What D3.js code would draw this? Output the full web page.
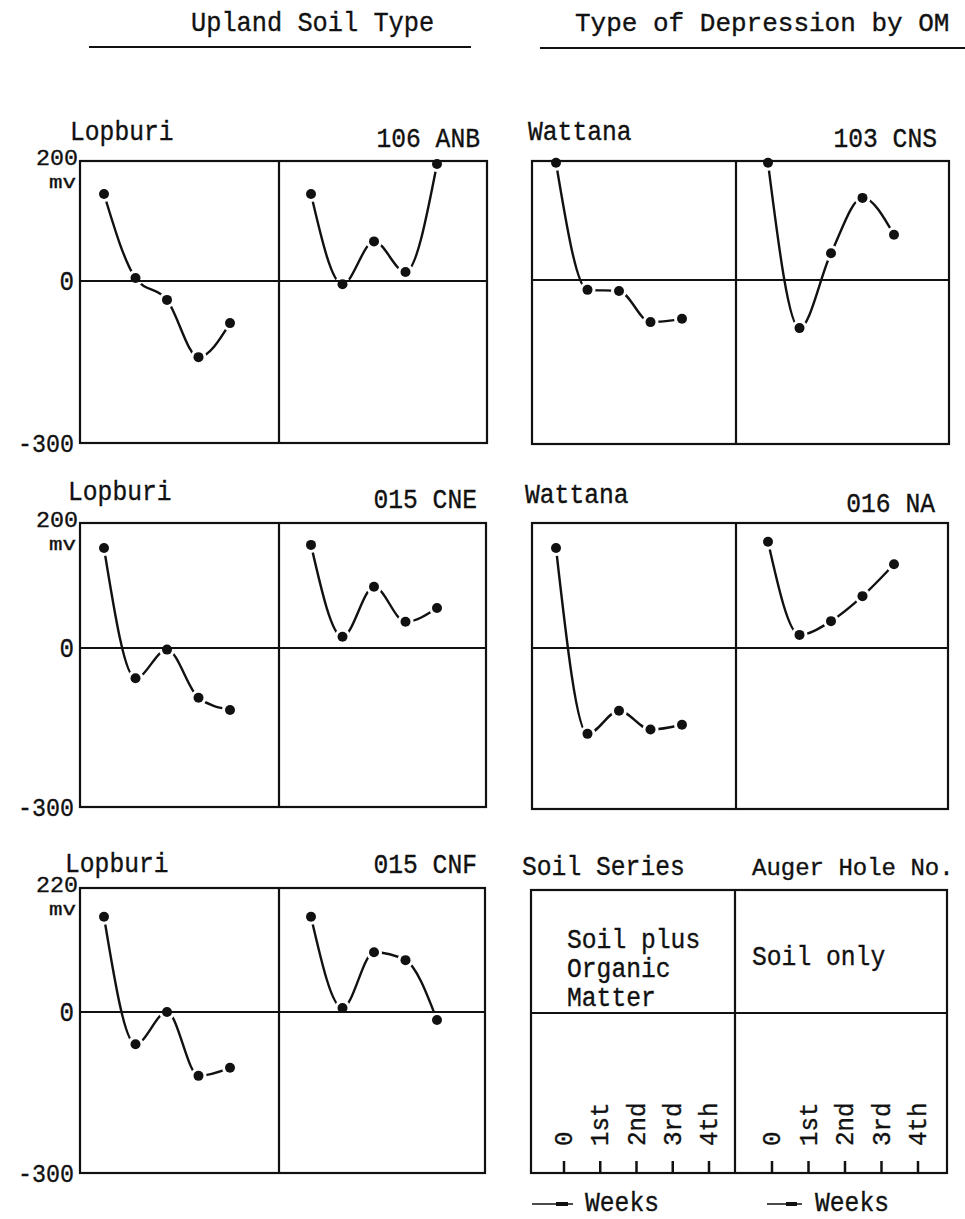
<!DOCTYPE html>
<html>
<head>
<meta charset="utf-8">
<script src="https://cdn.jsdelivr.net/npm/d3@7/dist/d3.min.js"></script>
<style>
  html, body { margin: 0; padding: 0; background: #fff; }
  svg { display: block; }
  text { font-family: "Liberation Mono", "DejaVu Sans Mono", monospace; fill: #111; stroke: #111; stroke-width: 0.35; }
</style>
</head>
<body>
<svg id="chart" width="965" height="1219"></svg>
<script>
// ---------------- DATA ----------------
const weeks = [0, 1, 2, 3, 4];
const weekLabels = ["0", "1st", "2nd", "3rd", "4th"];
const yTicksStd = [200, 0, -300];
const yTicksRow3 = [220, 0, -300];
const yUnit = "mv";

// Eh values (mv): soil plus organic matter (left half) / soil only (right half)
const lopburi106ANB_OM   = [145, 5, -35, -141, -78];
const lopburi106ANB_Soil = [145, -6, 66, 15, 195];
const wattana103CNS_OM   = [197, -18, -20, -77, -71];
const wattana103CNS_Soil = [197, -88, 45, 138, 76];
const lopburi015CNE_OM   = [160, -57, -3, -94, -117];
const lopburi015CNE_Soil = [165, 18, 98, 42, 64];
const wattana016NA_OM    = [160, -160, -117, -152, -143];
const wattana016NA_Soil  = [170, 21, 43, 83, 134];
const lopburi015CNF_OM   = [169, -60, 0, -119, -104];
const lopburi015CNF_Soil = [169, 7, 106, 92, -15];

const headerLeft = "Upland Soil Type";
const headerRight = "Type of Depression by OM";
const keySeries = "Soil Series";
const keyAuger = "Auger Hole No.";
const keyOM = ["Soil plus", "Organic", "Matter"];
const keySoil = "Soil only";
const keyWeeks = "Weeks";

// ---------------- LAYOUT ----------------
const svg = d3.select("#chart");
const FS = 27, CW = 14.8;

function txt(s, x, y, anchor, fs, cw, parent) {
  fs = fs || FS; cw = cw || CW;
  const w = s.length * cw;
  const sx = anchor === "end" ? x - w : x;
  return (parent || svg).append("text")
    .attr("x", sx).attr("y", y)
    .attr("font-size", fs)
    .attr("textLength", w)
    .attr("lengthAdjust", "spacingAndGlyphs")
    .text(s);
}

// headers
txt(headerLeft, 191, 31, "start", 28, 15.2);
txt(headerRight, 575, 31, "start", 26, 15.6);
svg.append("line").attr("x1", 89).attr("x2", 471).attr("y1", 47).attr("y2", 47)
  .attr("stroke", "#111").attr("stroke-width", 2.2);
svg.append("line").attr("x1", 540).attr("x2", 965).attr("y1", 48).attr("y2", 48)
  .attr("stroke", "#111").attr("stroke-width", 2.2);

const panels = [
  {x0: 80, xm: 279, x1: 487, top: 161, zero: 281, bottom: 443, ticks: yTicksStd,
   name: "Lopburi", nameXY: [70, 140], code: "106 ANB", codeXY: [480, 147],
   om: lopburi106ANB_OM, soil: lopburi106ANB_Soil, yAxis: true},
  {x0: 532, xm: 736, x1: 949, top: 161, zero: 280, bottom: 444, ticks: yTicksStd,
   name: "Wattana", nameXY: [528, 140], code: "103 CNS", codeXY: [937, 147],
   om: wattana103CNS_OM, soil: wattana103CNS_Soil, yAxis: false},
  {x0: 80, xm: 279, x1: 486, top: 523, zero: 648, bottom: 807, ticks: yTicksStd,
   name: "Lopburi", nameXY: [68, 500], code: "015 CNE", codeXY: [477, 508],
   om: lopburi015CNE_OM, soil: lopburi015CNE_Soil, yAxis: true},
  {x0: 532, xm: 736, x1: 948, top: 523, zero: 648, bottom: 809, ticks: yTicksStd,
   name: "Wattana", nameXY: [525, 503], code: "016 NA", codeXY: [935, 512],
   om: wattana016NA_OM, soil: wattana016NA_Soil, yAxis: false},
  {x0: 80, xm: 279, x1: 485, top: 888, zero: 1012, bottom: 1173, ticks: yTicksRow3,
   name: "Lopburi", nameXY: [65, 872], code: "015 CNF", codeXY: [477, 873],
   om: lopburi015CNF_OM, soil: lopburi015CNF_Soil, yAxis: true}
];

function frame(p) {
  const g = svg.append("g");
  g.append("rect").attr("x", p.x0).attr("y", p.top)
    .attr("width", p.x1 - p.x0).attr("height", p.bottom - p.top)
    .attr("fill", "none").attr("stroke", "#111").attr("stroke-width", 2.2);
  g.append("line").attr("x1", p.xm).attr("x2", p.xm).attr("y1", p.top).attr("y2", p.bottom)
    .attr("stroke", "#111").attr("stroke-width", 2.2);
  g.append("line").attr("x1", p.x0).attr("x2", p.x1).attr("y1", p.zero).attr("y2", p.zero)
    .attr("stroke", "#111").attr("stroke-width", 2.2);
}

panels.forEach(p => {
  const y = d3.scaleLinear().domain([p.ticks[2], 0, p.ticks[0]]).range([p.bottom, p.zero, p.top]);
  const xOM = d3.scaleLinear().domain([0, 4]).range([p.x0 + 24, p.x0 + 150]);
  const xSoil = d3.scaleLinear().domain([0, 4]).range([p.xm + 32, p.xm + 158]);

  const series = [{x: xOM, v: p.om}, {x: xSoil, v: p.soil}];
  const curves = svg.append("g");
  series.forEach(s => {
    const line = d3.line().x((d, i) => s.x(weeks[i])).y(d => y(d)).curve(d3.curveMonotoneX);
    curves.append("path").attr("d", line(s.v))
      .attr("fill", "none").attr("stroke", "#111").attr("stroke-width", 2.4)
      .attr("stroke-linecap", "round");
  });
  // white gaps around the dots, as in the hand-drawn original
  series.forEach(s => {
    curves.selectAll(null).data(s.v).enter().append("circle")
      .attr("cx", (d, i) => s.x(weeks[i])).attr("cy", d => y(d)).attr("r", 8).attr("fill", "#fff");
  });
  frame(p);
  series.forEach(s => {
    svg.append("g").selectAll("circle").data(s.v).enter().append("circle")
      .attr("cx", (d, i) => s.x(weeks[i])).attr("cy", d => y(d)).attr("r", 5).attr("fill", "#111");
  });

  txt(p.name, p.nameXY[0], p.nameXY[1], "start");
  txt(p.code, p.codeXY[0], p.codeXY[1], "end");

  if (p.yAxis) {
    txt(String(p.ticks[0]), 78, y(p.ticks[0]) + 4, "end", 22, 14);
    txt(yUnit, 76, y(p.ticks[0]) + 27, "end", 18, 13.5);
    txt(String(p.ticks[1]), 74, y(p.ticks[1]) + 9, "end", 27, 14.5);
    txt(String(p.ticks[2]), 74, y(p.ticks[2]) + 9, "end", 26, 14);
  }
});

// ---------------- KEY PANEL ----------------
const key = {x0: 531, xm: 735, x1: 947, top: 890, zero: 1013, bottom: 1173};
frame(key);
txt(keySeries, 522, 875, "start");
txt(keyAuger, 752, 875, "start", 24, 14.4);
keyOM.forEach((s, i) => txt(s, 567, 948 + i * 29, "start"));
txt(keySoil, 752, 965, "start");

const kxOM = d3.scaleLinear().domain([0, 4]).range([key.x0 + 33, key.x0 + 178]);
const kxSoil = d3.scaleLinear().domain([0, 4]).range([key.xm + 37, key.xm + 183]);
[kxOM, kxSoil].forEach(sc => {
  weeks.forEach((w, i) => {
    const x = sc(w);
    svg.append("line").attr("x1", x).attr("x2", x).attr("y1", key.bottom).attr("y2", key.bottom - 12)
      .attr("stroke", "#111").attr("stroke-width", 2.5);
    const g = svg.append("g").attr("transform", `translate(${x},1146) rotate(-90)`);
    const s = weekLabels[i];
    g.append("text").attr("x", 0).attr("y", 8).attr("font-size", 26)
      .attr("textLength", s.length * 14.5).attr("lengthAdjust", "spacingAndGlyphs").text(s);
  });
});

// "Weeks" arrows
[[532, 573, 556, 568, 585], [767, 802, 786, 797, 815]].forEach(a => {
  svg.append("line").attr("x1", a[0]).attr("x2", a[1]).attr("y1", 1204).attr("y2", 1204)
    .attr("stroke", "#111").attr("stroke-width", 1.6);
  svg.append("rect").attr("x", a[2]).attr("y", 1202).attr("width", a[3] - a[2]).attr("height", 4)
    .attr("fill", "#111");
  txt(keyWeeks, a[4], 1211, "start");
});
</script>
</body>
</html>
